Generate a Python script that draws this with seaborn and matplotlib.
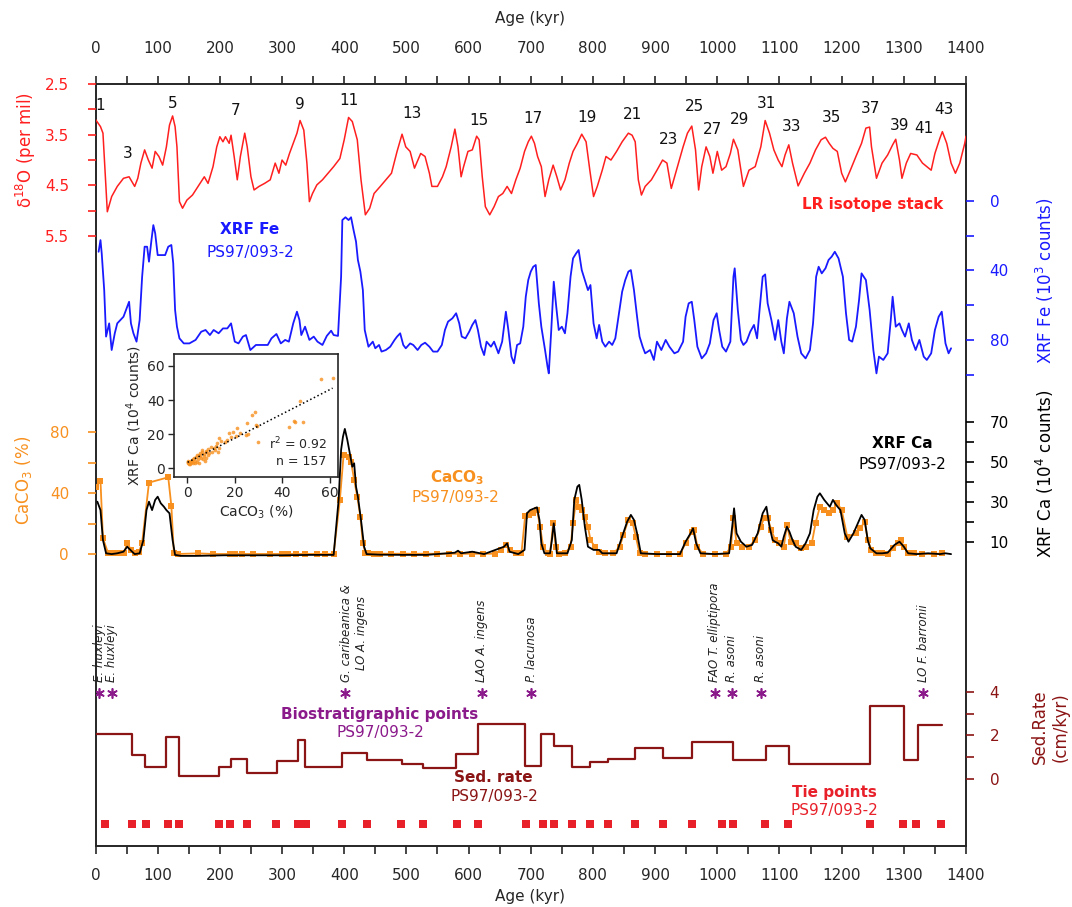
import numpy as np
import pandas as pd
import matplotlib
matplotlib.use("Agg")
import matplotlib.pyplot as plt
from matplotlib.ticker import MultipleLocator
import seaborn as sns

sns.set_style("ticks")
plt.rcParams["font.family"] = ["DejaVu Sans"]

# ---------------- data ----------------
# LR04 benthic d18O stack
lr_age = [0, 8, 12, 19, 26, 35, 45, 54, 63, 68,
          73, 79, 85, 91, 96, 102, 108, 114, 119, 124,
          128, 131, 135, 140, 147, 156, 165, 175, 181, 189,
          195, 200, 205, 209, 215, 218, 223, 228, 233, 240,
          244, 250, 255, 263, 272, 281, 289, 295, 300, 306,
          312, 318, 324, 329, 335, 340, 344, 349, 356, 365,
          374, 383, 393, 400, 407, 413, 421, 427, 434, 441,
          448, 458, 467, 476, 485, 493, 499, 506, 513, 523,
          530, 537, 541, 550, 558, 564, 572, 578, 583, 588,
          592, 599, 606, 613, 617, 622, 627, 634, 641, 648,
          655, 662, 669, 676, 683, 690, 696, 701, 706, 711,
          717, 723, 729, 736, 742, 748, 755, 762, 768, 775,
          782, 789, 795, 801, 807, 815, 821, 829, 838, 847,
          857, 863, 868, 873, 878, 884, 894, 903, 912, 919,
          926, 936, 945, 952, 959, 965, 970, 975, 982, 988,
          993, 1000, 1007, 1014, 1021, 1026, 1033, 1042, 1051, 1061,
          1070, 1077, 1084, 1091, 1098, 1104, 1109, 1115, 1121, 1130,
          1140, 1149, 1158, 1167, 1174, 1180, 1186, 1193, 1200, 1206,
          1214, 1223, 1232, 1239, 1245, 1248, 1256, 1265, 1274, 1282,
          1287, 1293, 1297, 1304, 1311, 1321, 1330, 1337, 1344, 1350,
          1358, 1362, 1369, 1376, 1383, 1390, 1398, 1400]
lr_d18o = [3.20, 3.34, 3.47, 5.02, 4.72, 4.52, 4.36, 4.33, 4.52, 4.36,
           4.06, 3.80, 4.00, 4.16, 3.83, 3.93, 4.10, 3.74, 3.31, 3.13,
           3.34, 3.74, 4.82, 4.95, 4.79, 4.69, 4.52, 4.33, 4.46, 4.13,
           3.74, 3.54, 3.64, 3.54, 3.67, 3.51, 3.93, 4.39, 3.93, 3.47,
           3.74, 4.33, 4.59, 4.52, 4.46, 4.39, 4.06, 4.26, 4.00, 4.10,
           3.87, 3.67, 3.47, 3.22, 3.41, 4.06, 4.82, 4.66, 4.49, 4.39,
           4.26, 4.13, 3.97, 3.60, 3.16, 3.24, 3.60, 4.39, 5.08, 4.95,
           4.66, 4.52, 4.39, 4.26, 3.83, 3.49, 3.74, 3.83, 4.16, 3.87,
           3.93, 4.26, 4.52, 4.52, 4.33, 4.13, 3.74, 3.39, 3.74, 4.33,
           4.13, 3.83, 3.80, 3.53, 3.60, 4.33, 4.92, 5.08, 4.92, 4.72,
           4.66, 4.52, 4.66, 4.39, 4.16, 3.83, 3.64, 3.53, 3.67, 3.93,
           4.13, 4.72, 4.39, 4.10, 4.33, 4.59, 4.39, 4.06, 3.83, 3.67,
           3.49, 3.64, 4.20, 4.72, 4.52, 4.20, 3.93, 4.00, 3.83, 3.64,
           3.47, 3.51, 3.64, 4.39, 4.69, 4.52, 4.39, 4.20, 4.00, 4.06,
           4.56, 4.13, 3.74, 3.47, 3.33, 3.80, 4.59, 4.13, 3.74, 3.93,
           4.26, 3.83, 4.20, 4.13, 3.87, 3.59, 3.80, 4.52, 4.20, 4.13,
           3.74, 3.22, 3.47, 3.80, 4.00, 4.13, 3.90, 3.70, 4.06, 4.51,
           4.26, 4.06, 3.80, 3.60, 3.55, 3.67, 3.77, 3.83, 4.26, 4.43,
           4.20, 3.93, 3.67, 3.37, 3.35, 3.74, 4.36, 4.06, 3.90, 3.70,
           3.59, 4.00, 4.36, 4.06, 3.87, 3.90, 4.06, 4.13, 4.20, 3.87,
           3.57, 3.44, 3.67, 4.06, 4.26, 4.06, 3.67, 3.53]

# marine isotope stage numbers
mis_labels = ["1", "3", "5", "7", "9", "11", "13", "15", "17", "19", "21",
              "23", "25", "27", "29", "31", "33", "35", "37", "39", "41", "43"]
mis_age = [8, 52, 124, 226, 329, 407, 509, 617, 704, 790, 863,
           922, 963, 993, 1036, 1079, 1119, 1183, 1246, 1293, 1333, 1365]
mis_d18o = [2.93, 3.88, 2.88, 3.03, 2.91, 2.82, 3.08, 3.22, 3.18, 3.16, 3.11,
            3.59, 2.95, 3.39, 3.20, 2.88, 3.34, 3.16, 2.99, 3.32, 3.37, 3.01]

# XRF Fe (10^3 counts)
fe_age = [5, 8, 10, 14, 17, 22, 26, 31, 35, 40,
          45, 49, 54, 57, 61, 66, 71, 75, 79, 83,
          86, 90, 93, 96, 100, 107, 112, 117, 122, 125,
          128, 131, 135, 142, 151, 161, 170, 177, 184, 190,
          198, 205, 212, 218, 224, 230, 237, 242, 249, 258,
          267, 277, 283, 291, 298, 305, 311, 318, 324, 328,
          331, 337, 344, 351, 357, 365, 372, 379, 383, 390,
          395, 397, 402, 407, 411, 415, 419, 422, 426, 430,
          433, 439, 446, 450, 456, 460, 467, 474, 481, 485,
          490, 495, 499, 506, 511, 518, 524, 530, 537, 543,
          550, 557, 562, 567, 574, 580, 585, 589, 595, 601,
          606, 611, 615, 620, 625, 629, 636, 641, 648, 654,
          660, 664, 669, 673, 678, 683, 688, 692, 696, 700,
          704, 708, 713, 717, 723, 727, 729, 733, 737, 741,
          745, 750, 755, 759, 764, 768, 773, 777, 782, 787,
          792, 796, 801, 806, 810, 815, 820, 826, 831, 836,
          842, 847, 852, 857, 861, 866, 871, 875, 880, 884,
          892, 898, 903, 910, 917, 923, 931, 937, 945, 949,
          954, 959, 963, 968, 975, 982, 988, 994, 999, 1003,
          1008, 1014, 1021, 1026, 1028, 1033, 1038, 1042, 1047, 1053,
          1059, 1064, 1068, 1073, 1077, 1081, 1087, 1093, 1098, 1103,
          1107, 1112, 1116, 1123, 1129, 1135, 1142, 1149, 1154, 1159,
          1163, 1168, 1174, 1179, 1184, 1189, 1195, 1202, 1207, 1212,
          1217, 1223, 1228, 1232, 1239, 1245, 1251, 1256, 1260, 1267,
          1274, 1279, 1282, 1287, 1293, 1297, 1302, 1308, 1313, 1319,
          1325, 1332, 1337, 1344, 1350, 1356, 1361, 1367, 1372, 1376]
fe_val = [29.3, 22.6, 30.2, 51.3, 78.0, 70.4, 85.7, 76.1, 70.4, 68.5,
          66.6, 62.7, 58.0, 70.4, 76.1, 80.9, 68.5, 43.6, 26.4, 26.4,
          35.0, 22.6, 14.0, 18.7, 31.2, 31.2, 31.2, 26.4, 25.4, 35.9,
          62.7, 72.3, 79.0, 81.9, 81.9, 79.9, 75.2, 74.2, 77.1, 74.2,
          76.1, 73.3, 73.3, 70.4, 80.9, 81.9, 78.0, 77.1, 85.7, 82.8,
          82.8, 82.8, 79.0, 76.5, 81.9, 79.9, 80.9, 70.4, 63.7, 68.5,
          77.1, 72.3, 79.9, 78.0, 80.9, 82.8, 77.6, 74.6, 77.1, 77.6,
          43.6, 11.1, 9.5, 11.1, 9.5, 16.8, 23.5, 34.0, 40.7, 51.3,
          74.2, 83.8, 80.9, 84.7, 82.8, 86.6, 85.7, 83.8, 79.9, 78.0,
          76.1, 82.8, 84.7, 81.9, 82.8, 85.7, 82.8, 81.5, 83.8, 86.6,
          86.6, 82.8, 74.2, 69.4, 67.5, 64.6, 70.4, 78.0, 79.0, 75.2,
          71.3, 68.5, 74.2, 83.8, 88.6, 80.9, 83.8, 80.9, 87.6, 80.9,
          63.7, 74.2, 89.5, 93.3, 82.8, 81.9, 72.3, 55.1, 45.5, 40.7,
          37.9, 36.9, 58.9, 72.3, 85.7, 95.3, 99.1, 74.2, 46.5, 60.8,
          74.2, 72.3, 76.1, 64.6, 43.6, 33.1, 30.2, 28.3, 39.8, 45.5,
          51.3, 48.4, 70.4, 79.0, 71.3, 80.9, 83.8, 80.9, 82.8, 79.0,
          64.6, 52.2, 45.5, 40.7, 39.8, 51.3, 66.6, 78.0, 83.8, 87.6,
          85.7, 91.4, 80.9, 85.7, 79.9, 83.8, 87.6, 86.6, 80.9, 66.6,
          58.9, 58.0, 68.5, 83.8, 90.5, 87.6, 81.9, 68.5, 64.6, 74.2,
          83.8, 86.6, 80.9, 43.6, 38.8, 62.7, 79.9, 82.8, 80.9, 75.2,
          71.3, 79.0, 62.7, 43.6, 42.3, 58.9, 68.5, 79.9, 68.5, 80.9,
          87.6, 67.5, 58.0, 64.6, 78.0, 87.6, 90.5, 85.7, 70.4, 43.6,
          37.9, 41.7, 38.8, 34.0, 32.1, 29.3, 33.1, 43.6, 64.6, 79.9,
          80.9, 72.3, 57.0, 41.7, 45.5, 62.7, 85.7, 99.1, 89.5, 91.4,
          87.6, 68.5, 55.1, 72.3, 70.4, 74.2, 78.0, 70.4, 79.9, 85.7,
          79.9, 89.5, 91.4, 87.6, 74.2, 66.6, 63.7, 81.9, 87.6, 84.7]

# XRF Ca (10^4 counts)
ca_age = [3, 8, 12, 17, 26, 35, 45, 51, 56, 63,
          71, 77, 82, 86, 91, 96, 100, 105, 110, 114,
          119, 124, 128, 138, 161, 207, 253, 300, 346, 383,
          391, 395, 398, 401, 405, 408, 413, 416, 419, 422,
          427, 432, 436, 458, 495, 532, 578, 583, 588, 606,
          625, 657, 662, 666, 680, 690, 694, 699, 706, 710,
          714, 717, 722, 731, 734, 737, 740, 742, 759, 766,
          770, 775, 778, 782, 787, 792, 801, 810, 815, 838,
          847, 855, 861, 866, 871, 877, 903, 940, 949, 957,
          961, 966, 973, 996, 1019, 1024, 1027, 1031, 1038, 1047,
          1056, 1065, 1073, 1079, 1084, 1089, 1093, 1098, 1103, 1107,
          1112, 1116, 1121, 1126, 1135, 1142, 1149, 1155, 1161, 1165,
          1172, 1181, 1186, 1191, 1198, 1205, 1211, 1219, 1226, 1232,
          1237, 1242, 1246, 1256, 1265, 1274, 1285, 1293, 1300, 1307,
          1321, 1339, 1358, 1367, 1376]
ca_val = [30.0, 25.8, 10.8, 4.2, 3.8, 4.2, 5.0, 7.5, 5.9, 3.8,
          4.2, 10.8, 25.8, 30.0, 25.8, 30.9, 32.5, 29.2, 27.5, 25.8,
          24.2, 10.8, 3.4, 2.9, 2.9, 3.2, 3.2, 3.2, 3.4, 3.4,
          30.9, 55.9, 62.5, 66.4, 60.9, 55.9, 47.5, 49.2, 37.5, 32.5,
          20.9, 7.5, 3.8, 3.5, 3.4, 3.4, 4.5, 5.5, 4.2, 5.0,
          3.8, 7.5, 9.2, 5.0, 3.8, 5.9, 24.2, 25.8, 26.7, 27.2,
          20.9, 9.2, 4.2, 4.2, 10.8, 19.2, 10.8, 4.2, 4.2, 10.8,
          30.9, 37.5, 38.4, 30.9, 17.5, 7.5, 5.9, 5.9, 4.2, 4.2,
          12.5, 20.0, 23.4, 20.9, 14.2, 4.2, 3.8, 3.8, 10.0, 14.2,
          16.7, 9.2, 4.2, 3.8, 4.2, 17.5, 26.7, 14.2, 10.0, 7.5,
          8.4, 14.2, 24.2, 27.5, 17.5, 10.8, 10.0, 9.2, 7.5, 12.5,
          17.5, 15.0, 10.8, 7.5, 5.9, 9.2, 14.2, 25.8, 32.5, 34.2,
          30.9, 27.5, 30.9, 28.4, 25.8, 14.2, 10.0, 14.2, 19.2, 23.4,
          20.9, 10.8, 6.7, 4.2, 4.2, 4.5, 8.4, 10.0, 7.5, 4.2,
          3.8, 4.2, 3.8, 4.2, 3.8]

# CaCO3 (%) discrete samples
caco3_age = [1, 8, 12, 20, 26, 33, 40, 46, 51, 57,
             63, 70, 75, 86, 117, 122, 126, 133, 165, 189,
             216, 224, 235, 253, 281, 300, 309, 323, 337, 356,
             369, 383, 393, 399, 407, 411, 416, 421, 426, 430,
             434, 439, 448, 458, 476, 494, 513, 531, 550, 568,
             587, 605, 624, 643, 652, 660, 666, 676, 685, 691,
             697, 704, 710, 715, 720, 727, 731, 736, 740, 745,
             755, 764, 768, 773, 778, 782, 787, 792, 796, 803,
             810, 820, 833, 843, 849, 857, 864, 869, 875, 884,
             903, 922, 940, 949, 959, 963, 968, 977, 996, 1014,
             1022, 1026, 1031, 1040, 1051, 1061, 1070, 1075, 1081, 1087,
             1093, 1100, 1107, 1112, 1118, 1126, 1135, 1142, 1152, 1158,
             1165, 1172, 1180, 1186, 1193, 1200, 1209, 1223, 1230, 1237,
             1242, 1248, 1256, 1265, 1274, 1283, 1291, 1295, 1300, 1307,
             1316, 1330, 1348, 1362]
caco3_val = [44.4, 48.1, 10.5, 1.1, 0.6, 0.6, 0.6, 0.6, 7.6, 2.8,
             1.1, 1.7, 7.6, 47.0, 50.5, 31.7, 1.1, 0.2, 0.6, 0.2,
             0.2, 0.2, 0.2, 0.2, 0.2, 0.2, 0.2, 0.2, 0.2, 0.2,
             0.2, 0.2, 35.6, 65.1, 64.0, 60.8, 48.7, 37.8, 24.7, 7.2,
             1.1, 0.6, 0.2, 0.4, 0.3, 0.4, 0.3, 0.4, 0.3, 0.4,
             0.3, 0.4, 0.3, 0.4, 2.8, 6.1, 2.8, 0.6, 0.6, 25.1,
             25.8, 27.3, 29.1, 18.1, 5.0, 0.6, 0.2, 20.3, 5.0, 0.2,
             0.6, 5.0, 20.3, 35.6, 31.2, 29.1, 24.7, 18.1, 9.4, 5.0,
             1.7, 0.6, 0.6, 5.0, 12.7, 22.5, 20.3, 11.6, 0.6, 0.2,
             0.2, 0.2, 0.2, 7.2, 14.8, 15.9, 5.0, 0.2, 0.2, 0.2,
             5.0, 23.6, 7.2, 5.0, 5.0, 9.4, 18.1, 23.6, 23.6, 15.9,
             9.4, 7.2, 5.0, 19.2, 8.3, 7.2, 3.9, 5.0, 7.2, 20.3,
             31.2, 29.1, 26.9, 29.1, 33.4, 29.1, 11.6, 13.8, 17.0, 21.4,
             9.4, 2.8, 0.6, 1.1, 0.2, 3.9, 7.2, 9.4, 5.0, 0.6,
             0.6, 0.2, 0.2, 0.6]

# inset: XRF Ca vs CaCO3
sc_caco3 = [61.1, 56.2, 47.4, 48.7, 44.9, 45.3, 42.8, 29.9, 28.5, 27.2,
            28.7, 29.3, 25.0, 24.6, 25.4, 21.0, 19.1, 17.7, 18.4, 14.0,
            13.5, 12.6, 13.1, 13.0, 11.0, 9.8, 8.5, 7.7, 6.8, 6.2,
            5.5, 4.8, 4.2, 3.5, 2.8, 2.1, 1.4, 0.7, 0.2, 0.3,
            0.5, 1.0, 1.8, 2.5, 3.2, 4.5, 5.9, 7.0, 8.0, 9.1,
            10.4, 7.5, 6.0, 3.9, 1.2, 0.4, 0.1, 2.3, 5.2, 7.9,
            8.8, 11.8, 12.1, 15.8, 16.5, 20.3, 22.0, 5.0, 3.0, 6.6]
sc_ca = [52.9, 52.4, 39.5, 27.0, 27.6, 27.2, 24.0, 15.6, 33.2, 31.2,
         25.3, 25.0, 26.5, 19.6, 20.0, 23.5, 21.5, 20.8, 18.5, 15.8,
         17.6, 14.8, 11.7, 9.3, 11.8, 12.6, 11.2, 10.1, 8.6, 9.3,
         8.7, 8.1, 7.6, 6.8, 5.9, 4.9, 4.1, 3.6, 3.0, 4.4,
         2.6, 3.2, 3.9, 3.3, 4.2, 5.4, 6.0, 7.3, 6.3, 8.9,
         9.6, 4.5, 11.0, 4.0, 2.7, 3.5, 4.0, 5.5, 7.0, 9.8,
         7.7, 10.9, 13.3, 15.2, 16.6, 18.9, 21.0, 3.4, 2.9, 5.3]

# biostratigraphic datums
bio_age = [6, 26, 402, 621, 701, 996, 1023, 1070, 1331]
bio_names = ["E. huxleyi", "E. huxleyi", "G. caribeanica &\nLO A. ingens",
             "LAO A. ingens", "P. lacunosa", "FAO T. elliptipora",
             "R. asoni", "R. asoni", "LO F. barronii"]

# sedimentation rate (cm/kyr), step starts
sed_start = [0, 59, 79, 114, 135, 198, 218, 244, 292, 326,
             337, 397, 437, 493, 527, 580, 615, 691, 717, 738,
             766, 796, 824, 868, 912, 959, 1007, 1026, 1078, 1115,
             1246, 1300, 1322]
sed_end = 1362
sed_rate = [2.05, 1.11, 0.55, 1.92, 0.15, 0.58, 0.91, 0.27, 0.82, 1.79,
            0.55, 1.19, 0.88, 0.70, 0.53, 1.16, 2.52, 0.61, 2.05, 1.52,
            0.58, 0.79, 0.94, 1.44, 0.97, 1.69, 1.72, 0.88, 1.52, 0.68,
            3.35, 0.88, 2.47]

# tie points
tie_age = [16, 58, 81, 116, 134, 198, 217, 243, 291, 326,
           332, 338, 397, 436, 492, 526, 581, 615, 692, 719,
           737, 766, 796, 824, 868, 912, 960, 1007, 1025, 1077,
           1114, 1246, 1299, 1320, 1360]

# ---------------- colours ----------------
RED = "#ff1f1f"
BLUE = "#1a1aff"
ORANGE = "#f7901e"
PURPLE = "#8b1a8b"
SEDRED = "#8b1414"
TIERED = "#e8202a"

W, H = 1072, 907
fig = plt.figure(figsize=(W / 100, H / 100), dpi=100)


def rect(l, t, r, b):
    return [l / W, 1 - b / H, (r - l) / W, (b - t) / H]


def ftext(x, y, s, **kw):
    kw.setdefault("ha", "center")
    kw.setdefault("va", "center")
    fig.text(x / W, 1 - y / H, s, **kw)


box = rect(95.5, 84, 966, 846)
ax = fig.add_axes(box)
ax.set_xlim(0, 1400)
ax.set_ylim(0, 1)
ax.set_yticks([])
for s in ax.spines.values():
    s.set_linewidth(1.4)
ax.xaxis.set_major_locator(MultipleLocator(100))
ax.xaxis.set_minor_locator(MultipleLocator(50))
ax.tick_params(axis="x", which="both", direction="out", length=6, width=1.2,
               labelsize=11, pad=10)
top = ax.secondary_xaxis("top")
top.xaxis.set_major_locator(MultipleLocator(100))
top.xaxis.set_minor_locator(MultipleLocator(50))
top.tick_params(axis="x", which="both", direction="out", length=6, width=1.2,
                labelsize=11, pad=14)
top.spines["top"].set_visible(False)


def layer(ylim, side, color, major, minor, pad):
    a = fig.add_axes(box, sharex=ax)
    a.patch.set_visible(False)
    for s in a.spines.values():
        s.set_visible(False)
    a.tick_params(axis="x", which="both", bottom=False, top=False,
                  labelbottom=False, labeltop=False)
    a.set_ylim(*ylim)
    a.yaxis.set_ticks_position(side)
    a.set_yticks(major)
    a.set_yticks(minor, minor=True)
    a.tick_params(axis="y", which="both", direction="out", colors=color,
                  length=6, width=1.2, labelsize=11, pad=pad)
    return a


ax_o = layer((17.53, 2.5), "left", RED, [2.5, 3.5, 4.5, 5.5], [3, 4, 5], 13)
ax_fe = layer((370.4, -67.0), "right", BLUE, [0, 40, 80], [20, 60, 100], 11)
ax_cc = layer((-191.3, 308.4), "left", ORANGE, [0, 40, 80], [20, 60], 13)
ax_ca = layer((-142.15, 238.85), "right", "black", [10, 30, 50, 70], [20, 40, 60], 11)
ax_sr = layer((-3.05, 31.75), "right", SEDRED, [0, 2, 4], [1, 3], 11)
ax_o.set_yticklabels(["2.5", "3.5", "4.5", "5.5"])

# curves
sns.lineplot(x=lr_age, y=lr_d18o, ax=ax_o, color=RED, lw=1.1, sort=False, estimator=None)
sns.lineplot(x=fe_age, y=fe_val, ax=ax_fe, color=BLUE, lw=1.3, sort=False, estimator=None)
sns.lineplot(x=ca_age, y=ca_val, ax=ax_ca, color="black", lw=1.3, sort=False, estimator=None)
sns.lineplot(x=caco3_age, y=caco3_val, ax=ax_cc, color=ORANGE, lw=1.3, sort=False,
             estimator=None, marker="s", markersize=4, markeredgewidth=0)

sed_x = sed_start + [sed_end]
sed_y = sed_rate + [sed_rate[-1]]
sns.lineplot(x=sed_x, y=sed_y, ax=ax_sr, color=SEDRED, lw=1.6, sort=False,
             estimator=None, drawstyle="steps-post")

sns.scatterplot(x=tie_age, y=[-2.05] * len(tie_age), ax=ax_sr, marker="s",
                s=38, color=TIERED, linewidth=0)
sns.scatterplot(x=bio_age, y=[3.93] * len(bio_age), ax=ax_sr, marker=(6, 2, 0),
                s=45, color=PURPLE, linewidth=1.2, edgecolor=PURPLE)
for age, name in zip(bio_age, bio_names):
    dx = 6 if "\n" in name else 0
    ax_sr.annotate(name, (age, 3.93), xytext=(dx, 8), textcoords="offset points",
                   rotation=90, ha="center", va="bottom", fontsize=8.5,
                   style="italic", color="#222222")

for lab, a, v in zip(mis_labels, mis_age, mis_d18o):
    ax_o.text(a, v, lab, ha="center", va="center", fontsize=11, color="#111111")

for a in (ax_o, ax_fe, ax_cc, ax_ca, ax_sr):
    a.set_xlabel("")
    a.set_ylabel("")
ax.set_xlim(0, 1400)

# axis titles
ftext(530, 18, "Age (kyr)", fontsize=11)
ftext(530, 897, "Age (kyr)", fontsize=11)
ftext(26, 150, r"δ$^{18}$O (per mil)", rotation=90, color=RED, fontsize=12)
ftext(23, 480, r"CaCO$_3$ (%)", rotation=90, color=ORANGE, fontsize=12)
ftext(1045, 281, r"XRF Fe (10$^3$ counts)", rotation=90, color=BLUE, fontsize=12)
ftext(1045, 474, r"XRF Ca (10$^4$ counts)", rotation=90, color="black", fontsize=12)
ftext(1050, 727, "Sed.Rate\n(cm/kyr)", rotation=90, color=SEDRED, fontsize=12,
      multialignment="center")

# series labels
ftext(873, 205, "LR isotope stack", color=RED, fontsize=11, fontweight="bold")
ftext(250, 230, "XRF Fe", color=BLUE, fontsize=11, fontweight="bold")
ftext(250, 253, "PS97/093-2", color=BLUE, fontsize=11)
ftext(902, 443, "XRF Ca", color="black", fontsize=11, fontweight="bold")
ftext(902, 464, "PS97/093-2", color="black", fontsize=11)
ftext(457, 478, r"CaCO$_\mathbf{3}$", color=ORANGE, fontsize=11, fontweight="bold")
ftext(455, 498, "PS97/093-2", color=ORANGE, fontsize=11)
ftext(380, 714, "Biostratigraphic points", color=PURPLE, fontsize=11, fontweight="bold")
ftext(380, 733, "PS97/093-2", color=PURPLE, fontsize=11)
ftext(493, 777, "Sed. rate", color=SEDRED, fontsize=11, fontweight="bold")
ftext(494, 796, "PS97/093-2", color=SEDRED, fontsize=11)
ftext(834, 792, "Tie points", color=TIERED, fontsize=11, fontweight="bold")
ftext(834, 810, "PS97/093-2", color=TIERED, fontsize=11)

# inset regression
ins = fig.add_axes(rect(174.3, 354, 338.3, 476.7))
ins.set_facecolor("white")
sns.regplot(x=sc_caco3, y=sc_ca, ax=ins, ci=None, color=ORANGE,
            scatter_kws=dict(s=7, linewidths=0),
            line_kws=dict(color="black", ls=":", lw=1.1))
ins.set_xlim(-5.5, 63.5)
ins.set_ylim(-4.9, 67)
ins.set_xticks([0, 20, 40, 60])
ins.set_yticks([0, 20, 40, 60])
ins.tick_params(direction="out", length=4, width=1, labelsize=10, pad=3)
for s in ins.spines.values():
    s.set_linewidth(1.2)
ins.set_xlabel(r"CaCO$_3$ (%)", fontsize=10, labelpad=2)
ins.set_ylabel(r"XRF Ca (10$^4$ counts)", fontsize=10, labelpad=2)
ins.text(0.93, 0.265, r"r$^2$ = 0.92", transform=ins.transAxes, ha="right",
         va="center", fontsize=9)
ins.text(0.93, 0.12, "n = 157", transform=ins.transAxes, ha="right",
         va="center", fontsize=9)

fig.savefig("out.png", dpi=100)
